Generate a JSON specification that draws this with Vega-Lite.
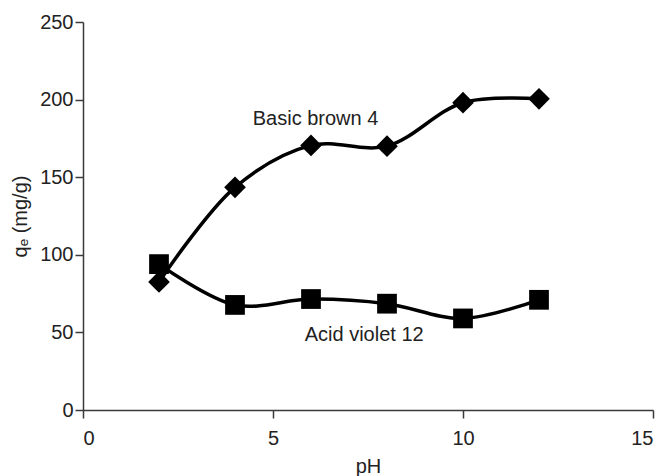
{
  "$schema": "https://vega.github.io/schema/vega-lite/v6.json",
  "width": 658,
  "height": 476,
  "autosize": {"type": "fit", "contains": "padding"},
  "padding": {"left": 10, "top": 12, "right": 4, "bottom": 0},
  "background": "white",
  "config": {
    "view": {"stroke": null},
    "font": "Liberation Sans",
    "axis": {
      "grid": false,
      "domainColor": "#3a3a3a",
      "tickColor": "#3a3a3a",
      "domainWidth": 1.5,
      "tickWidth": 1.5,
      "tickSize": 8,
      "labelFont": "Liberation Sans",
      "labelFontSize": 20,
      "labelColor": "#222222",
      "titleFont": "Liberation Sans",
      "titleFontSize": 20,
      "titleFontWeight": "normal",
      "titleColor": "#222222"
    }
  },
  "datasets": {
    "series": [
      {"pH": 2, "qe": 82.5, "dye": "Basic brown 4"},
      {"pH": 4, "qe": 143.5, "dye": "Basic brown 4"},
      {"pH": 6, "qe": 170.5, "dye": "Basic brown 4"},
      {"pH": 8, "qe": 170, "dye": "Basic brown 4"},
      {"pH": 10, "qe": 198, "dye": "Basic brown 4"},
      {"pH": 12, "qe": 200.5, "dye": "Basic brown 4"},
      {"pH": 2, "qe": 94, "dye": "Acid violet 12"},
      {"pH": 4, "qe": 67.7, "dye": "Acid violet 12"},
      {"pH": 6, "qe": 71.5, "dye": "Acid violet 12"},
      {"pH": 8, "qe": 68.5, "dye": "Acid violet 12"},
      {"pH": 10, "qe": 59, "dye": "Acid violet 12"},
      {"pH": 12, "qe": 71, "dye": "Acid violet 12"}
    ],
    "labels": [
      {"pH": 6.12, "qe": 187.5, "text": "Basic brown 4"},
      {"pH": 7.4, "qe": 48.3, "text": "Acid violet 12"}
    ]
  },
  "layer": [
    {
      "data": {"name": "series"},
      "mark": {"type": "line", "interpolate": "catmull-rom", "color": "black", "strokeWidth": 3.5},
      "encoding": {
        "x": {"field": "pH", "type": "quantitative", "scale": {"domain": [0, 15], "nice": false}, "axis": {"values": [0, 5, 10, 15], "title": "pH", "labelPadding": 10, "titlePadding": 8}},
        "y": {"field": "qe", "type": "quantitative", "scale": {"domain": [0, 250], "nice": false}, "axis": {"values": [0, 50, 100, 150, 200, 250], "title": "qₑ (mg/g)", "labelPadding": 2, "titlePadding": 9}},
        "detail": {"field": "dye"}
      }
    },
    {
      "data": {"name": "series"},
      "mark": {"type": "point", "filled": true, "color": "black", "opacity": 1},
      "encoding": {
        "x": {"field": "pH", "type": "quantitative"},
        "y": {"field": "qe", "type": "quantitative"},
        "shape": {"field": "dye", "type": "nominal", "scale": {"domain": ["Basic brown 4", "Acid violet 12"], "range": ["diamond", "square"]}, "legend": null},
        "size": {"field": "dye", "type": "nominal", "scale": {"domain": ["Basic brown 4", "Acid violet 12"], "range": [470, 390]}, "legend": null}
      }
    },
    {
      "data": {"name": "labels"},
      "mark": {"type": "text", "fontSize": 20, "font": "Liberation Sans", "color": "#222222"},
      "encoding": {
        "x": {"field": "pH", "type": "quantitative"},
        "y": {"field": "qe", "type": "quantitative"},
        "text": {"field": "text"}
      }
    }
  ]
}
